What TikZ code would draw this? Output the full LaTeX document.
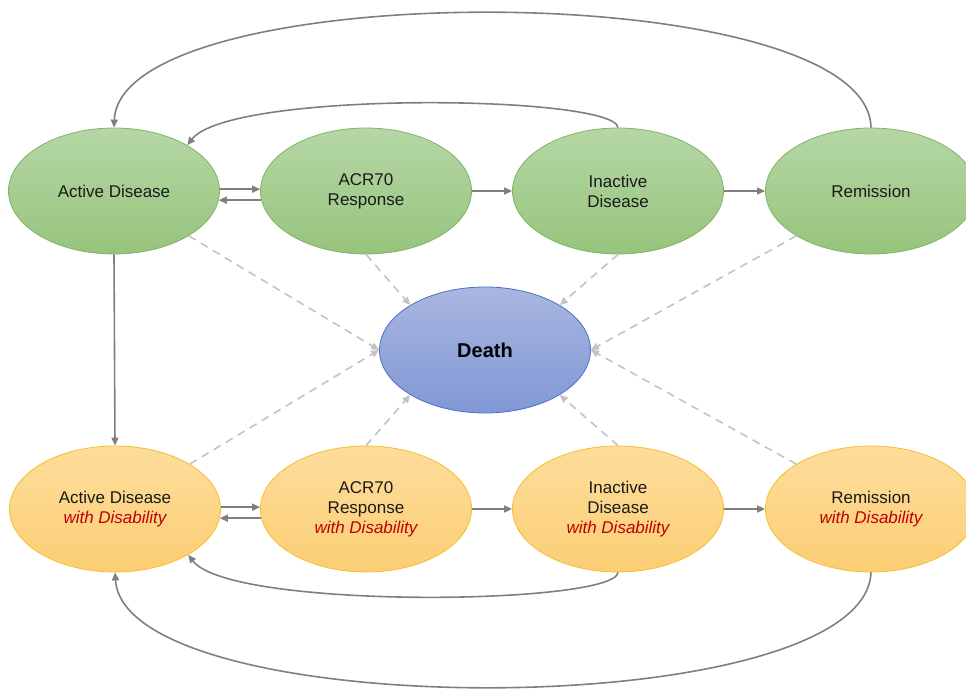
\documentclass[tikz,border=0pt]{standalone}
\usepackage{fontspec}
\setmainfont{Liberation Sans}
\usetikzlibrary{shapes.geometric,arrows.meta,calc}
\definecolor{gtop}{HTML}{B5D7A6}
\definecolor{gbot}{HTML}{97C47C}
\definecolor{gline}{HTML}{82B366}
\definecolor{ytop}{HTML}{FDDD9C}
\definecolor{ybot}{HTML}{FCCE74}
\definecolor{yline}{HTML}{F5BE2E}
\definecolor{btop}{HTML}{A9B6E0}
\definecolor{bbot}{HTML}{8098D5}
\definecolor{bline}{HTML}{4A72C4}
\definecolor{redtxt}{HTML}{C00000}
\definecolor{arr}{HTML}{7F7F7F}
\definecolor{dsh}{HTML}{C3C3C3}
\definecolor{txt}{HTML}{1A1A1A}
\tikzset{
  state/.style={ellipse, minimum width=211pt, minimum height=126pt, inner sep=0pt,
    align=center, text=txt, font=\fontsize{17}{20}\selectfont, line width=0.8pt},
  greenstate/.style={state, draw=gline, top color=gtop, bottom color=gbot},
  yellowstate/.style={state, draw=yline, top color=ytop, bottom color=ybot},
  deathstate/.style={state, draw=bline, top color=btop, bottom color=bbot,
    font=\fontsize{20}{24}\selectfont\bfseries, text=black},
  conn/.style={draw=arr, line width=1.6pt, -{Triangle[length=8pt,width=7pt]}},
  dconn/.style={draw=dsh, line width=1.6pt, dash pattern=on 8pt off 6pt,
    -{Triangle[length=8pt,width=7pt]}},
}
\newcommand{\withdis}{\textcolor{redtxt}{\itshape with Disability}}
\begin{document}
\begin{tikzpicture}[x=1pt,y=-1pt]
\useasboundingbox (0,0) rectangle (966,690);
\clip (0,0) rectangle (966,690);
% top row
\node[greenstate] (ad) at (114,191) {Active Disease};
\node[greenstate] (acr) at (366,191) {ACR70\\Response};
\node[greenstate] (ina) at (618,191) {Inactive\\Disease};
\node[greenstate] (rem) at (871,191) {Remission};
% death
\node[deathstate] (death) at (485,350) {Death};
% bottom row
\node[yellowstate] (add) at (115,509) {Active Disease\\\withdis};
\node[yellowstate] (acrd) at (366,509) {ACR70\\Response\\\withdis};
\node[yellowstate] (inad) at (618,509) {Inactive\\Disease\\\withdis};
\node[yellowstate] (remd) at (871,509) {Remission\\\withdis};
% dashed to death
\draw[dconn] (ad.-31) -- (death.west);
\draw[dconn] (acr.south) -- (death.149);
\draw[dconn] (ina.south) -- (death.31);
\draw[dconn] (rem.-149) -- (death.east);
\draw[dconn] (add.31) -- (death.west);
\draw[dconn] (acrd.north) -- (death.-149);
\draw[dconn] (inad.north) -- (death.-31);
\draw[dconn] (remd.149) -- (death.east);
% top row arrows
\draw[conn] (ad.1) -- (acr.179);
\draw[conn] (acr.-175) -- (ad.-5);
\draw[conn] (acr.east) -- (ina.west);
\draw[conn] (ina.east) -- (rem.west);
\draw[conn] (ad.south) -- (add.north);
\draw[conn] (rem.north) .. controls (868,-25) and (120,-25) .. (ad.north);
\draw[conn] (ina.north) .. controls (615,95) and (230,90) .. (ad.32);
% bottom row arrows
\draw[conn] (add.1) -- (acrd.179);
\draw[conn] (acrd.-175) -- (add.-5);
\draw[conn] (acrd.east) -- (inad.west);
\draw[conn] (inad.east) -- (remd.west);
\draw[conn] (inad.south) .. controls (615,605) and (230,610) .. (add.-32);
\draw[conn] (remd.south) .. controls (865,725) and (125,725) .. (add.south);
\end{tikzpicture}
\end{document}
